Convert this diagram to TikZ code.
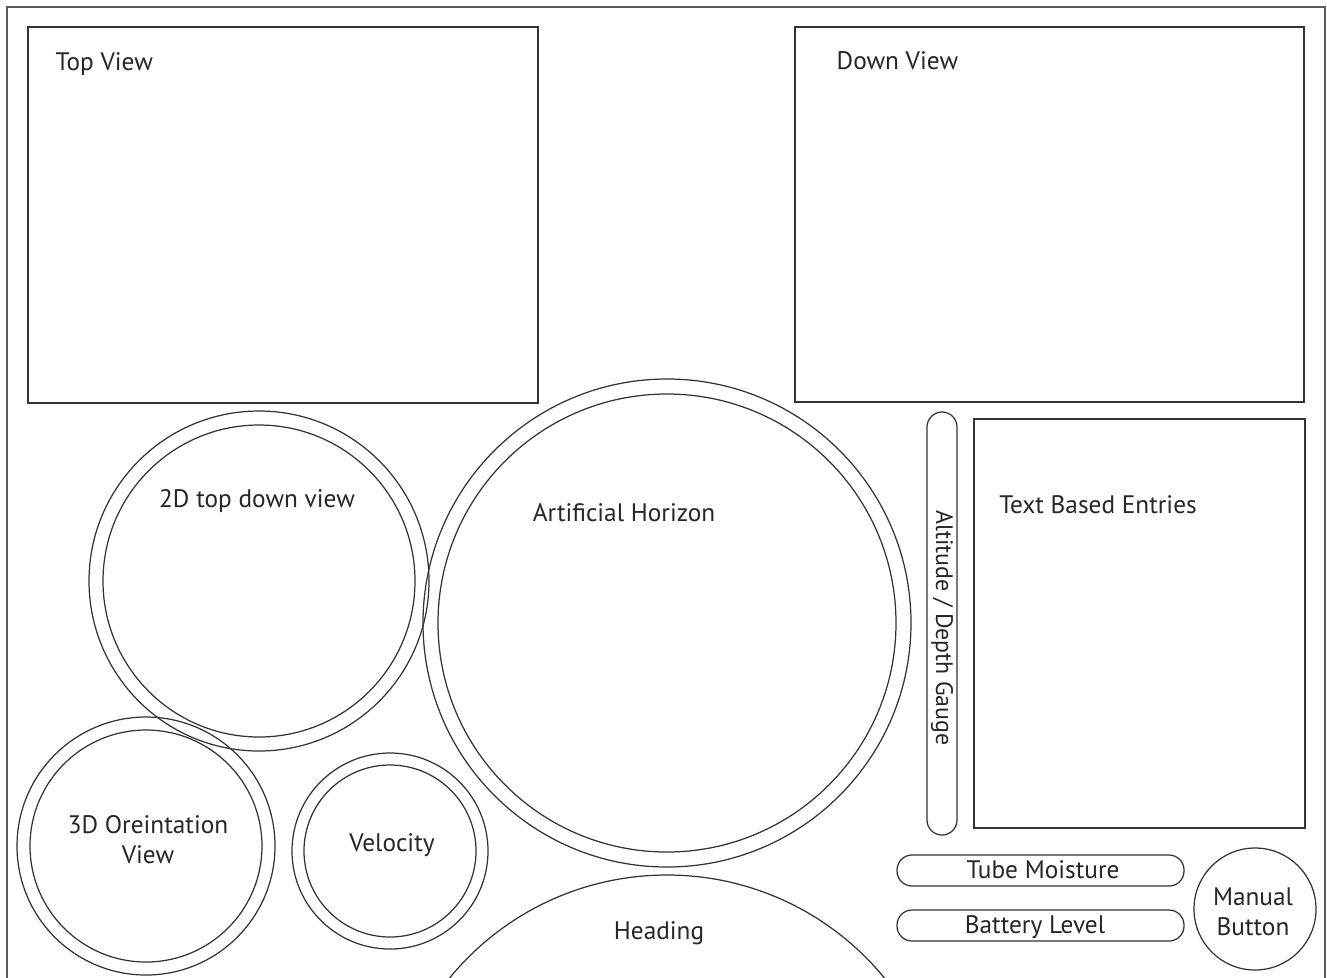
\documentclass[tikz,border=0pt]{standalone}
\usepackage{fontspec}
\setmainfont{PT Sans}
\usetikzlibrary{calc}
\tikzset{
  panel/.style={draw=black!80,line width=0.35pt},
  pill/.style={panel,rounded corners=1.5mm},
  lbl/.style={font=\fontsize{7.2}{8.6}\selectfont,text=black!85,align=center,inner sep=0pt}
}

\begin{document}
\begin{tikzpicture}[x=0.1mm,y=-0.1mm]
\useasboundingbox (0,0) rectangle (1327,977);
\clip (0,0) rectangle (1327,977);
\fill[white] (0,0) rectangle (1327,977);

% outer frame
\draw[panel,draw=black!65] (7,1000) -- (7,7) -- (1325,7) -- (1325,1000);

% the two camera views
\draw[panel] (28,27) rectangle (538,403);
\draw[panel] (795,27) rectangle (1304,402);
\node[lbl,anchor=west] (topview) at (55,64) {Top View};
\node[lbl,anchor=west] (downview) at (836,61) {Down View};

% round gauges
\draw[panel] (259,581) circle (170) (259,581) circle (156);
\draw[panel] (667,623) circle (244) (667,623) circle (229);
\draw[panel] (146,846) circle (129) (146,846) circle (116);
\draw[panel] (390,851) circle (98) (390,851) circle (86);
\draw[panel] (667,1156) circle (281);
\draw[panel] (1255,909) circle (61);

\node[lbl] (topdown) at (257,501) {2D top down view};
\node[lbl] (horizon) at (624,513) {Artificial Horizon};
\node[lbl] (orient) at (148,840) {3D Oreintation\\View};
\node[lbl] (velocity) at (392,845) {Velocity};
\node[lbl] (heading) at (659,933) {Heading};
\node[lbl] (manual) at (1253,912) {Manual\\Button};

% bar gauges and text panel
\draw[pill] (927,412) rectangle (957,835);
\node[lbl,rotate=-90,font=\fontsize{6.8}{8}\selectfont] (altitude) at (942,628) {Altitude / Depth Gauge};
\draw[panel] (974,419) rectangle (1305,828);
\node[lbl] (entries) at (1098,505) {Text Based Entries};
\draw[pill] (897,855) rectangle (1184,886);
\node[lbl] (moisture) at (1043,870) {Tube Moisture};
\draw[pill] (897,910) rectangle (1184,941);
\node[lbl] (battery) at (1035,927) {Battery Level};
\end{tikzpicture}
\end{document}
